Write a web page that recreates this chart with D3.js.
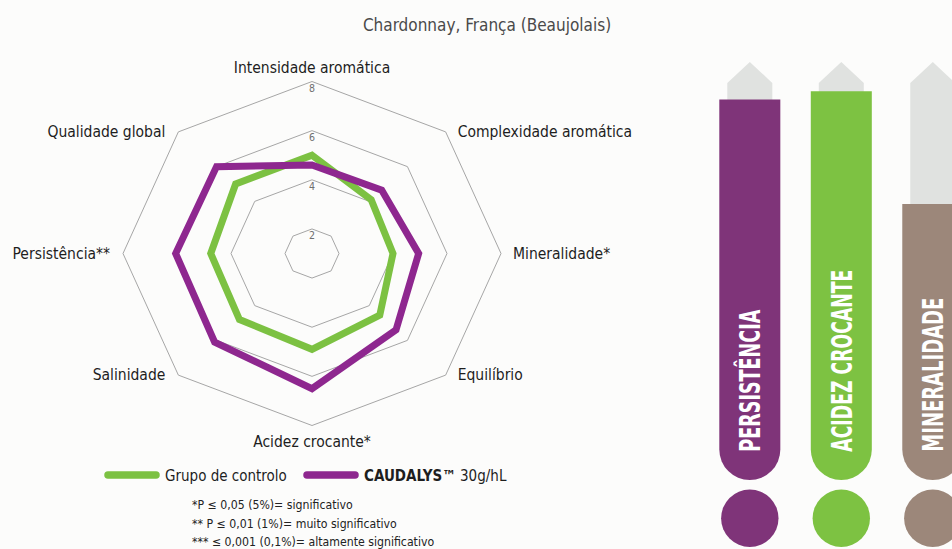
<!DOCTYPE html>
<html>
<head>
<meta charset="utf-8">
<script src="https://cdn.jsdelivr.net/npm/d3@7"></script>
<style>
  html, body { margin: 0; padding: 0; background: #fcfcfb; }
  svg { display: block; font-family: "Liberation Sans Narrow", "DejaVu Sans Condensed", "Roboto Condensed", sans-serif; font-stretch: condensed; }
</style>
</head>
<body>
<div id="chart"></div>
<script>
// radar axes (clockwise from the top)
const axes = ['Intensidade aromática', 'Complexidade aromática', 'Mineralidade*', 'Equilíbrio',
  'Acidez crocante*', 'Salinidade', 'Persistência**', 'Qualidade global'];
const controlo = [5.0, 4.1, 4.0, 4.55, 4.9, 4.8, 4.75, 5.0];
const caudalys = [4.6, 4.65, 4.95, 5.4, 6.5, 6.1, 6.05, 6.0];
const ringTicks = [2, 4, 6, 8];
const seriesNames = ['Grupo de controlo', 'CAUDALYS™'];
const footnotes = ['*P ≤ 0,05 (5%)= significativo', '** P ≤ 0,01 (1%)= muito significativo',
  '*** ≤ 0,001 (0,1%)= altamente significativo'];

// side panels
const barLabels = ['PERSISTÊNCIA', 'ACIDEZ CROCANTE', 'MINERALIDADE'];
const barValues = [9.1, 9.3, 6.6];

const W = 952, H = 549;
const cx = 312, cy = 253.5;

const svg = d3.select('#chart')
  .append('svg')
  .attr('width', W)
  .attr('height', H);

svg.append('rect').attr('width', W).attr('height', H).attr('fill', '#fcfcfb');

// radar scales (the chart is a bit wider than tall)
const rX = d3.scaleLinear().domain([1, 8]).range([0, 189]);
const rY = d3.scaleLinear().domain([1, 8]).range([0, 172]);
const angle = d3.scaleLinear().domain([0, axes.length]).range([0, 2 * Math.PI]);

const px = (i, v) => cx + rX(v) * Math.sin(angle(i));
const py = (i, v) => cy - rY(v) * Math.cos(angle(i));

const radarLine = d3.line()
  .x(d => px(d.i, d.v))
  .y(d => py(d.i, d.v))
  .curve(d3.curveLinearClosed);

// grid rings
const g = svg.append('g');
g.selectAll('.ring')
  .data(ringTicks)
  .join('path')
  .attr('class', 'ring')
  .attr('d', t => radarLine(axes.map((a, i) => ({ i, v: t }))))
  .attr('fill', 'none')
  .attr('stroke', '#a6a6a6')
  .attr('stroke-width', 1);

g.selectAll('.tick')
  .data(ringTicks)
  .join('text')
  .attr('class', 'tick')
  .attr('x', cx)
  .attr('y', t => py(0, t) + 10)
  .attr('text-anchor', 'middle')
  .attr('font-size', 10.5)
  .attr('fill', '#6f6f6f')
  .text(t => t);

// series
const series = [
  { name: seriesNames[0], values: controlo, color: '#7cc142' },
  { name: seriesNames[1], values: caudalys, color: '#8e278f' }
];

g.selectAll('.series')
  .data(series)
  .join('path')
  .attr('class', 'series')
  .attr('d', s => radarLine(s.values.map((v, i) => ({ i, v }))))
  .attr('fill', 'none')
  .attr('stroke', s => s.color)
  .attr('stroke-width', 7)
  .attr('stroke-linejoin', 'miter');

// axis labels
const maxV = d3.max(ringTicks);
g.selectAll('.axis-label')
  .data(axes)
  .join('text')
  .attr('class', 'axis-label')
  .attr('x', (a, i) => {
    const s = Math.sin(angle(i));
    return px(i, maxV) + (Math.abs(s) < 0.01 ? 0 : (s > 0 ? 12 : -13));
  })
  .attr('y', (a, i) => {
    const c = Math.cos(angle(i));
    if (Math.abs(Math.sin(angle(i))) < 0.01) return py(i, maxV) + (c > 0 ? -9 : 21);
    return py(i, maxV) + 5;
  })
  .attr('text-anchor', (a, i) => {
    const s = Math.sin(angle(i));
    return Math.abs(s) < 0.01 ? 'middle' : (s > 0 ? 'start' : 'end');
  })
  .attr('font-size', 15.5)
  .attr('fill', '#1e1e1e')
  .text(a => a);

// title
svg.append('text')
  .attr('x', 487)
  .attr('y', 31)
  .attr('text-anchor', 'middle')
  .attr('font-size', 17)
  .attr('fill', '#4a4a4a')
  .text('Chardonnay, França (Beaujolais)');

// legend
const legend = svg.append('g');
const legendX = d3.scaleOrdinal().domain(seriesNames).range([108, 307]);
const item = legend.selectAll('.item')
  .data(series)
  .join('g')
  .attr('class', 'item')
  .attr('transform', s => `translate(${legendX(s.name)}, 475)`);
item.append('line')
  .attr('x1', 0).attr('x2', 48)
  .attr('stroke', s => s.color)
  .attr('stroke-width', 7.5)
  .attr('stroke-linecap', 'round');
const lt = item.append('text')
  .attr('x', 57)
  .attr('y', 6)
  .attr('font-size', 15)
  .attr('fill', '#1e1e1e');
lt.append('tspan')
  .attr('font-weight', (s, i) => i === 1 ? 'bold' : 'normal')
  .text(s => s.name);
lt.filter((s, i) => i === 1).append('tspan').text(' 30g/hL');

svg.append('g')
  .selectAll('text')
  .data(footnotes)
  .join('text')
  .attr('x', 192)
  .attr('y', (d, i) => 509 + i * 18.7)
  .attr('font-size', 12.2)
  .attr('fill', '#222')
  .text(d => d);

// side panels
const barColors = ['#7f3479', '#7dc242', '#9c877a'];
const bx = d3.scaleBand().domain(barLabels).range([719.3, 963.3]).paddingInner(0.333);
const by = d3.scaleLinear().domain([0, 10]).range([480, 62]);
const bw = bx.bandwidth();
const rad = bw / 2;

const panel = svg.append('g')
  .selectAll('g')
  .data(barLabels)
  .join('g')
  .attr('transform', d => `translate(${bx(d)},0)`);

// grey arrow behind each bar
panel.append('path')
  .attr('d', (d, i) => {
    const x0 = 8, x1 = bw - 8, top = by(10), sh = top + 21, base = by(barValues[i]) + 2;
    return `M${x0},${base}L${x0},${sh}L${bw / 2},${top}L${x1},${sh}L${x1},${base}Z`;
  })
  .attr('fill', '#e0e2e0');

panel.append('path')
  .attr('d', (d, i) => {
    const top = by(barValues[i]), bottom = by(0);
    return `M0,${top}L${bw},${top}L${bw},${bottom - rad}A${rad},${rad} 0 0 1 0,${bottom - rad}Z`;
  })
  .attr('fill', (d, i) => barColors[i]);

panel.append('circle')
  .attr('cx', rad)
  .attr('cy', 518.3)
  .attr('r', 28.7)
  .attr('fill', (d, i) => barColors[i]);

panel.append('text')
  .attr('transform', `translate(${rad + 10.5},451.7) rotate(-90)`)
  .attr('font-size', 28)
  .attr('font-weight', 'bold')
  .attr('fill', '#fff')
  .attr('textLength', (d, i) => [142, 182, 154][i])
  .attr('lengthAdjust', 'spacingAndGlyphs')
  .text(d => d);
</script>
</body>
</html>
